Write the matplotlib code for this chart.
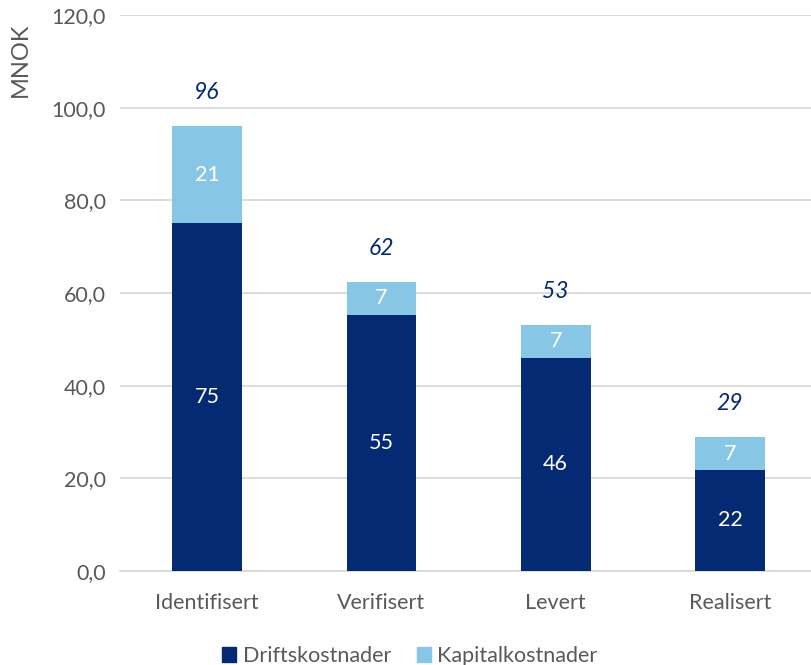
import matplotlib

matplotlib.use("Agg")
import matplotlib.pyplot as plt
from matplotlib.patches import Patch

plt.rcParams["font.family"] = ["Lato", "DejaVu Sans"]

categories = ["Identifisert", "Verifisert", "Levert", "Realisert"]
drift = [75.1, 55.3, 46.0, 21.8]
kapital = [20.9, 7.1, 7.1, 7.1]
y_ticks = [0, 20, 40, 60, 80, 100, 120]

DARK = "#032A72"
LIGHT = "#87C6E5"
GRAY = "#595959"
GRID = "#D9D9D9"
FS = 15.5

fig = plt.figure(figsize=(8.11, 6.65), dpi=100)
ax = fig.add_axes([120 / 811, 94 / 665, 691 / 811, 556 / 665])

x = list(range(len(categories)))
ax.bar(x, drift, width=0.40, color=DARK, zorder=3)
ax.bar(x, kapital, width=0.40, bottom=drift, color=LIGHT, zorder=3)

for i in x:
    ax.text(i, drift[i] / 2, f"{drift[i]:.0f}", ha="center", va="center",
            color="white", fontsize=FS, zorder=4)
    ax.text(i, drift[i] + kapital[i] / 2, f"{kapital[i]:.0f}", ha="center",
            va="center", color="white", fontsize=FS, zorder=4)
    total = drift[i] + kapital[i]
    ax.annotate(f"{total:.0f}", (i, total), xytext=(0, 24), textcoords="offset points",
                ha="center", va="center", color=DARK, fontsize=16.5, style="italic")

ax.set_xlim(-0.5, 3.465)
ax.set_ylim(0, 120)
ax.set_yticks(y_ticks)
ax.set_yticklabels([f"{v:.1f}".replace(".", ",") for v in y_ticks])
ax.set_xticks(x)
ax.set_xticklabels(categories)
ax.tick_params(axis="both", length=0, colors=GRAY, labelsize=FS)
ax.tick_params(axis="x", pad=16)
ax.tick_params(axis="y", pad=10)
ax.grid(axis="y", color=GRID, linewidth=1.3, zorder=0)

for spine in ("top", "right", "left"):
    ax.spines[spine].set_visible(False)
ax.spines["bottom"].set_color(GRID)
ax.spines["bottom"].set_linewidth(1.3)

fig.text(20 / 811, 1 - 60 / 665, "MNOK", rotation=90, ha="center", va="center",
         color=GRAY, fontsize=17)

handles = [Patch(color=DARK, label="Driftskostnader"),
           Patch(color=LIGHT, label="Kapitalkostnader")]
fig.legend(handles=handles, loc="center", bbox_to_anchor=(410 / 811, 1 - 656 / 665),
           ncol=2, frameon=False, fontsize=FS, handlelength=0.65, handleheight=0.65,
           handletextpad=0.3, columnspacing=1.2, labelcolor=GRAY)

fig.savefig("out.png", dpi=100, facecolor="white")
